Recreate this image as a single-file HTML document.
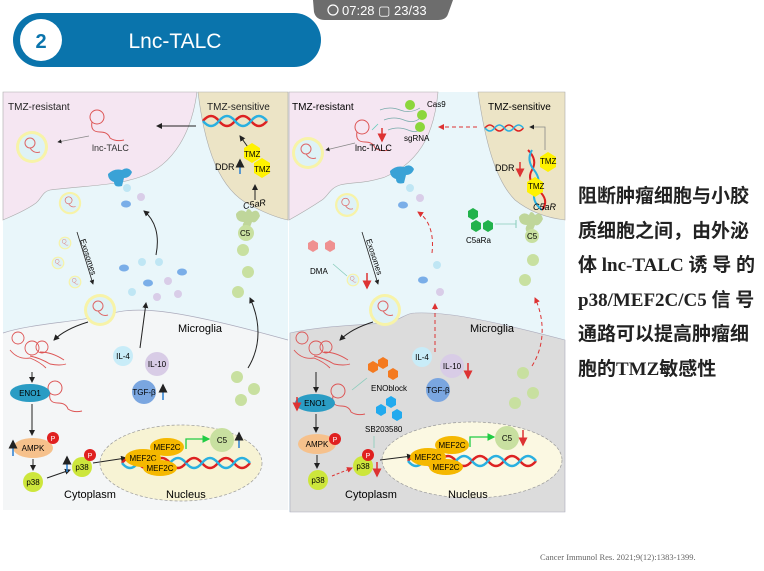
<!DOCTYPE html>
<html><head><meta charset="utf-8"><style>
html,body{margin:0;padding:0;background:#fff;width:764px;height:571px;overflow:hidden;font-family:"Liberation Sans","Noto Sans CJK SC",sans-serif}
.cn{position:absolute;left:578px;top:180px;width:186px;font-size:19px;line-height:34.6px;font-family:"Liberation Serif","Noto Sans CJK SC",sans-serif;font-weight:bold;color:#222;white-space:nowrap}
</style></head><body>
<svg width="764" height="571" viewBox="0 0 764 571" style="position:absolute;left:0;top:0" font-family="Liberation Sans, sans-serif">
<defs>
<marker id="ak" markerWidth="6" markerHeight="6" refX="5" refY="3" orient="auto"><path d="M0,0L6,3L0,6z" fill="#222"/></marker>
<marker id="ar" markerWidth="6" markerHeight="6" refX="5" refY="3" orient="auto"><path d="M0,0L6,3L0,6z" fill="#d33"/></marker>
<marker id="ag" markerWidth="6" markerHeight="6" refX="5" refY="3" orient="auto"><path d="M0,0L6,3L0,6z" fill="#2c4"/></marker>
<g id="ves"><circle r="16" fill="#f7f3a8"/><circle r="13" fill="#def2f6"/><circle cx="-2" cy="-4" r="5" fill="none" stroke="#d66" stroke-width="1"/><path d="M-2,1 q4,6 10,4" fill="none" stroke="#d66"/></g>
<g id="rna" fill="none" stroke="#d55" stroke-width="1"><circle r="7"/><path d="M-5,5 q-2,10 8,10 q8,0 10,6 q6,4 14,2"/></g>
<g id="dna" fill="none" stroke-width="2.5"><path d="M0,0 q8,-10 16,0 t16,0 t16,0 t16,0" stroke="#d22"/><path d="M0,0 q8,10 16,0 t16,0 t16,0 t16,0" stroke="#2ab0e0"/></g>
</defs>
<!-- header -->
<path d="M313,0 L453,0 L448,14 Q446,20 438,20 L325,20 Q316,20 314,12 Z" fill="#6d6d6d"/>
<text x="342" y="15" font-size="13" fill="#fff">07:28 ▢ 23/33</text>
<circle cx="333" cy="10" r="5" fill="none" stroke="#fff" stroke-width="1.2"/>
<rect x="13" y="13" width="308" height="54" rx="27" fill="#0a74ac"/>
<circle cx="41" cy="40" r="21" fill="#fff"/>
<text x="41" y="48" font-size="20" font-weight="bold" fill="#0a74ac" text-anchor="middle">2</text>
<text x="175" y="48" font-size="21" fill="#fff" text-anchor="middle">Lnc-TALC</text>

<!-- LEFT PANEL -->
<rect x="3" y="92" width="285" height="418" fill="#e9f6fa"/>
<path d="M3,333 C33,323 83,322 113,313 C140,306 180,310 288,340 L288,510 L3,510 Z" fill="#f4f6f7"/>
<path d="M3,333 C33,323 83,322 113,313 C140,306 180,310 288,340" fill="none" stroke="#aab" stroke-width="0.7"/>
<path d="M3,92 L197,92 C192,130 175,165 140,177 C115,186 80,186 50,190 C42,192 42,198 36,203 C25,211 12,216 3,220 Z" fill="#f5e6f2" stroke="#aaa" stroke-width="0.6"/>
<path d="M198,92 C205,150 220,190 250,205 C265,213 278,218 288,220 L288,92 Z" fill="#ece4c6" stroke="#aaa" stroke-width="0.6"/>
<ellipse cx="181" cy="463" rx="81" ry="38" fill="#f7f3d4" stroke="#999" stroke-dasharray="3,2" stroke-width="0.7"/>
<text x="8" y="110" font-size="10" fill="#222">TMZ-resistant</text>
<text x="207" y="110" font-size="10" fill="#222">TMZ-sensitive</text>
<use href="#ves" x="32" y="147"/>
<use href="#rna" x="97" y="117"/>
<text x="92" y="151" font-size="9" fill="#333">lnc-TALC</text>
<line x1="89" y1="136" x2="58" y2="142" stroke="#888" stroke-width="0.7" marker-end="url(#ak)"/>
<line x1="196" y1="126" x2="157" y2="126" stroke="#222" marker-end="url(#ak)"/>
<use href="#dna" x="203" y="121" transform="scale(1)"/>
<line x1="250" y1="150" x2="240" y2="136" stroke="#222" marker-end="url(#ak)"/>
<polygon points="252,143 260,148 260,158 252,163 244,158 244,148" fill="#fff200"/>
<polygon points="262,158 270,163 270,173 262,178 254,173 254,163" fill="#fff200"/>
<text x="244" y="157" font-size="8">TMZ</text><text x="254" y="172" font-size="8">TMZ</text>
<text x="215" y="170" font-size="9">DDR</text>
<line x1="240" y1="174" x2="240" y2="160" stroke="#2a7fd0" stroke-width="1.5" marker-end="url(#ak)"/>
<line x1="255" y1="200" x2="255" y2="185" stroke="#222" marker-end="url(#ak)"/>
<text x="243" y="208" font-size="9" font-style="italic" transform="rotate(-10 250 205)">C5aR</text>
<path d="M236,214 q4,-6 10,-2 q2,-6 6,0 q6,-4 8,4 q-4,8 -8,6 l-4,10 q-8,-4 -4,-10 q-8,0 -8,-8z" fill="#bfd69a"/>
<circle cx="246" cy="233" r="8" fill="#c8e0a0"/><text x="240" y="236" font-size="8">C5</text>
<circle cx="243" cy="250" r="6" fill="#c8e0a0"/><circle cx="248" cy="272" r="6" fill="#c8e0a0"/><circle cx="238" cy="292" r="6" fill="#c8e0a0"/>
<circle cx="237" cy="377" r="6" fill="#c8e0a0"/><circle cx="254" cy="389" r="6" fill="#c8e0a0"/><circle cx="241" cy="400" r="6" fill="#c8e0a0"/>
<path d="M248,368 C262,345 260,320 250,298" fill="none" stroke="#222" marker-end="url(#ak)"/>
<path d="M108,174 q6,-6 14,-4 q6,-4 10,2 q-2,6 -8,6 l-2,8 q-8,2 -8,-4 q-6,-2 -6,-8z" fill="#3aa2d6"/>
<circle cx="127" cy="188" r="4" fill="#bfe6f4"/><circle cx="141" cy="197" r="4" fill="#d9cde8"/><ellipse cx="126" cy="204" rx="5" ry="3.5" fill="#7aaee8"/>
<path d="M156,255 C160,235 155,220 144,211" fill="none" stroke="#222" marker-end="url(#ak)"/>
<ellipse cx="124" cy="268" rx="5" ry="3.5" fill="#7aaee8"/><circle cx="142" cy="262" r="4" fill="#bfe6f4"/><circle cx="159" cy="262" r="4" fill="#bfe6f4"/><ellipse cx="182" cy="272" rx="5" ry="3.5" fill="#7aaee8"/>
<ellipse cx="148" cy="283" rx="5" ry="3.5" fill="#7aaee8"/><circle cx="168" cy="281" r="4" fill="#d9cde8"/><circle cx="132" cy="292" r="4" fill="#bfe6f4"/><circle cx="157" cy="297" r="4" fill="#d9cde8"/><circle cx="178" cy="294" r="4" fill="#d9cde8"/>
<line x1="140" y1="348" x2="146" y2="303" stroke="#222" marker-end="url(#ak)"/>
<circle cx="123" cy="356" r="10" fill="#c8ecf8"/><text x="123" y="359" font-size="8" text-anchor="middle">IL-4</text>
<circle cx="157" cy="364" r="12" fill="#d8cce6"/><text x="157" y="367" font-size="8" text-anchor="middle">IL-10</text>
<circle cx="144" cy="392" r="12" fill="#7aa6e0"/><text x="144" y="395" font-size="8" text-anchor="middle">TGF-β</text>
<line x1="163" y1="400" x2="163" y2="385" stroke="#2a7fd0" stroke-width="1.5" marker-end="url(#ak)"/>
<use href="#ves" x="70" y="203" transform="translate(21 61) scale(0.7)"/>
<g transform="translate(65 243) scale(0.4)"><use href="#ves"/></g>
<g transform="translate(58 263) scale(0.4)"><use href="#ves"/></g>
<g transform="translate(75 282) scale(0.4)"><use href="#ves"/></g>
<line x1="77" y1="232" x2="93" y2="284" stroke="#222" stroke-width="0.8" marker-end="url(#ak)"/>
<text x="80" y="240" font-size="8" transform="rotate(72 80 240)">Exosomes</text>
<use href="#ves" x="100" y="310"/>
<path d="M88,322 C75,326 62,332 54,340" fill="none" stroke="#222" marker-end="url(#ak)"/>
<g fill="none" stroke="#d55" stroke-width="0.9"><circle cx="18" cy="338" r="6"/><circle cx="32" cy="348" r="7"/><circle cx="42" cy="347" r="6"/><path d="M10,350 q8,10 20,8 q10,4 16,10 M30,356 q10,2 20,8 q10,2 16,0 M40,352 q12,0 24,8"/></g>
<line x1="32" y1="372" x2="32" y2="382" stroke="#222" marker-end="url(#ak)"/>
<use href="#rna" x="55" y="388"/>
<ellipse cx="30" cy="393" rx="20" ry="9" fill="#2a9cc4"/><text x="30" y="396" font-size="8" text-anchor="middle">ENO1</text>
<line x1="32" y1="404" x2="32" y2="435" stroke="#222" marker-end="url(#ak)"/>
<ellipse cx="33" cy="448" rx="20" ry="10" fill="#f6c18c"/><text x="33" y="451" font-size="8" text-anchor="middle">AMPK</text>
<circle cx="53" cy="438" r="6" fill="#e02020"/><text x="53" y="441" font-size="7" fill="#fff" text-anchor="middle">P</text>
<line x1="13" y1="456" x2="13" y2="441" stroke="#2a7fd0" stroke-width="1.5" marker-end="url(#ak)"/>
<line x1="33" y1="459" x2="33" y2="470" stroke="#222" marker-end="url(#ak)"/>
<circle cx="33" cy="482" r="10" fill="#cde63c"/><text x="33" y="485" font-size="8" text-anchor="middle">p38</text>
<line x1="47" y1="478" x2="70" y2="470" stroke="#222" marker-end="url(#ak)"/>
<line x1="67" y1="472" x2="67" y2="457" stroke="#2a7fd0" stroke-width="1.5" marker-end="url(#ak)"/>
<circle cx="82" cy="467" r="10" fill="#cde63c"/><text x="82" y="470" font-size="8" text-anchor="middle">p38</text>
<circle cx="90" cy="455" r="6" fill="#e02020"/><text x="90" y="458" font-size="7" fill="#fff" text-anchor="middle">P</text>
<line x1="93" y1="463" x2="126" y2="458" stroke="#222" marker-end="url(#ak)"/>
<use href="#dna" x="122" y="463"/><use href="#dna" x="186" y="463"/>
<ellipse cx="143" cy="458" rx="18" ry="9" fill="#f5b800"/><text x="143" y="461" font-size="8" text-anchor="middle">MEF2C</text>
<ellipse cx="167" cy="447" rx="17" ry="9" fill="#f5b800"/><text x="167" y="450" font-size="8" text-anchor="middle">MEF2C</text>
<ellipse cx="160" cy="468" rx="17" ry="8" fill="#f5b800"/><text x="160" y="471" font-size="8" text-anchor="middle">MEF2C</text>
<path d="M186,449 L186,439 L209,439" fill="none" stroke="#2c4" stroke-width="1.3" marker-end="url(#ag)"/>
<circle cx="222" cy="440" r="12" fill="#c8e0a0"/><text x="222" y="443" font-size="8" text-anchor="middle">C5</text>
<line x1="239" y1="448" x2="239" y2="433" stroke="#2a7fd0" stroke-width="1.5" marker-end="url(#ak)"/>
<text x="178" y="332" font-size="11">Microglia</text>
<text x="64" y="498" font-size="11">Cytoplasm</text>
<text x="166" y="498" font-size="11">Nucleus</text>

<!-- RIGHT PANEL -->
<rect x="289" y="92" width="276" height="420" fill="#e9f6fa"/>
<path d="M290,333 C320,326 360,325 385,323 C400,321 405,313 415,313 C440,312 470,315 565,340 L565,512 L290,512 Z" fill="#dcdcdc" stroke="#aab" stroke-width="0.6"/>
<path d="M289,92 L438,92 C435,125 425,160 385,177 C365,184 350,182 340,185 C330,188 328,196 322,200 C310,208 298,215 289,220 Z" fill="#f5e6f2" stroke="#aaa" stroke-width="0.6"/>
<path d="M478,92 C485,140 495,180 515,200 C530,212 548,218 565,220 L565,92 Z" fill="#ece4c6" stroke="#aaa" stroke-width="0.6"/>
<ellipse cx="472" cy="460" rx="90" ry="38" fill="#fbf8e2" stroke="#999" stroke-dasharray="3,2" stroke-width="0.7"/>
<text x="292" y="110" font-size="10">TMZ-resistant</text>
<text x="488" y="110" font-size="10">TMZ-sensitive</text>
<use href="#ves" x="308" y="153"/>
<use href="#rna" x="362" y="127"/>
<text x="355" y="151" font-size="9">lnc-TALC</text>
<line x1="355" y1="143" x2="326" y2="150" stroke="#888" stroke-width="0.7" marker-end="url(#ak)"/>
<g fill="none" stroke="#7aa" stroke-width="0.7"><path d="M380,110 q10,-4 20,0 t20,-2"/><path d="M384,120 q10,-4 20,0 t16,-2"/><path d="M388,130 q10,-4 20,0 t12,-2"/></g>
<circle cx="410" cy="105" r="5" fill="#8cd63c"/><circle cx="422" cy="115" r="5" fill="#8cd63c"/><circle cx="420" cy="127" r="5" fill="#8cd63c"/>
<text x="427" y="107" font-size="8">Cas9</text><text x="404" y="141" font-size="8">sgRNA</text>
<line x1="378" y1="124" x2="372" y2="130" stroke="#6cb" stroke-width="0.8"/>
<line x1="382" y1="128" x2="382" y2="141" stroke="#d33" stroke-width="1.5" marker-end="url(#ar)"/>
<line x1="477" y1="127" x2="439" y2="127" stroke="#d33" stroke-dasharray="4,3" marker-end="url(#ar)"/>
<g transform="translate(485 128) scale(0.6)"><use href="#dna"/></g>
<path d="M545,150 L545,127 L530,127" fill="none" stroke="#888" stroke-width="0.8" marker-end="url(#ak)"/>
<path d="M528,150 q10,10 4,20 t6,20 t4,20" fill="none" stroke="#d22" stroke-width="2"/><path d="M532,150 q-6,10 2,20 t2,20 t6,20" fill="none" stroke="#2ab0e0" stroke-width="2"/>
<polygon points="548,152 556,157 556,167 548,172 540,167 540,157" fill="#fff200"/><text x="540" y="164" font-size="8">TMZ</text>
<polygon points="535,177 543,182 543,192 535,197 527,192 527,182" fill="#fff200"/><text x="528" y="189" font-size="8">TMZ</text>
<text x="495" y="171" font-size="9">DDR</text>
<line x1="520" y1="162" x2="520" y2="176" stroke="#d33" stroke-width="1.5" marker-end="url(#ar)"/>
<text x="533" y="210" font-size="9" font-style="italic">C5aR</text>
<path d="M519,217 q4,-6 10,-2 q2,-6 6,0 q6,-4 8,4 q-4,8 -8,6 l-4,10 q-8,-4 -4,-10 q-8,0 -8,-8z" fill="#bfd69a"/>
<circle cx="532" cy="236" r="7" fill="#c8e0a0"/><text x="527" y="239" font-size="8">C5</text>
<polygon points="473,208 478,211 478,217 473,220 468,217 468,211" fill="#22b24c"/><polygon points="476,220 481,223 481,229 476,232 471,229 471,223" fill="#22b24c"/><polygon points="488,220 493,223 493,229 488,232 483,229 483,223" fill="#22b24c"/>
<text x="466" y="243" font-size="8">C5aRa</text>
<line x1="495" y1="224" x2="516" y2="224" stroke="#8cb" stroke-width="0.8"/><line x1="516" y1="220" x2="516" y2="228" stroke="#8cb"/>
<circle cx="533" cy="260" r="6" fill="#c8e0a0"/><circle cx="525" cy="280" r="6" fill="#c8e0a0"/>
<circle cx="523" cy="373" r="6" fill="#c8e0a0"/><circle cx="533" cy="393" r="6" fill="#c8e0a0"/><circle cx="515" cy="403" r="6" fill="#c8e0a0"/>
<path d="M532,366 C545,345 545,320 535,298" fill="none" stroke="#d33" stroke-dasharray="4,3" marker-end="url(#ar)"/>
<path d="M390,171 q6,-6 14,-4 q6,-4 10,2 q-2,6 -8,6 l-2,8 q-8,2 -8,-4 q-6,-2 -6,-8z" fill="#3aa2d6"/>
<circle cx="410" cy="188" r="4" fill="#bfe6f4"/><circle cx="420" cy="198" r="4" fill="#d9cde8"/><ellipse cx="403" cy="205" rx="5" ry="3.5" fill="#7aaee8"/>
<path d="M432,253 C434,235 430,220 418,212" fill="none" stroke="#d33" stroke-dasharray="4,3" marker-end="url(#ar)"/>
<circle cx="437" cy="265" r="4" fill="#bfe6f4"/><ellipse cx="423" cy="280" rx="5" ry="3.5" fill="#7aaee8"/><circle cx="440" cy="292" r="4" fill="#d9cde8"/>
<line x1="435" y1="352" x2="435" y2="304" stroke="#d33" stroke-dasharray="4,3" marker-end="url(#ar)"/>
<circle cx="422" cy="357" r="10" fill="#c8ecf8"/><text x="422" y="360" font-size="8" text-anchor="middle">IL-4</text>
<circle cx="452" cy="366" r="12" fill="#d8cce6"/><text x="452" y="369" font-size="8" text-anchor="middle">IL-10</text>
<circle cx="438" cy="390" r="12" fill="#7aa6e0"/><text x="438" y="393" font-size="8" text-anchor="middle">TGF-β</text>
<line x1="468" y1="363" x2="468" y2="378" stroke="#d33" stroke-width="1.5" marker-end="url(#ar)"/>
<g transform="translate(347 205) scale(0.75)"><use href="#ves"/></g>
<line x1="362" y1="232" x2="378" y2="284" stroke="#222" stroke-width="0.8" marker-end="url(#ak)"/>
<text x="366" y="240" font-size="8" transform="rotate(72 366 240)">Exosomes</text>
<polygon points="313,240 318,243 318,249 313,252 308,249 308,243" fill="#ef9090"/><polygon points="330,240 335,243 335,249 330,252 325,249 325,243" fill="#ef9090"/>
<text x="310" y="274" font-size="8">DMA</text>
<line x1="333" y1="264" x2="347" y2="276" stroke="#8cb" stroke-width="0.8"/>
<g transform="translate(353 280) scale(0.4)"><use href="#ves"/></g>
<line x1="367" y1="273" x2="367" y2="288" stroke="#d33" stroke-width="1.5" marker-end="url(#ar)"/>
<use href="#ves" x="385" y="310"/>
<path d="M373,322 C360,326 348,332 340,340" fill="none" stroke="#222" marker-end="url(#ak)"/>
<g fill="none" stroke="#d55" stroke-width="0.9"><circle cx="302" cy="338" r="6"/><circle cx="316" cy="348" r="7"/><circle cx="326" cy="347" r="6"/><path d="M294,350 q8,10 20,8 q10,4 16,10 M314,356 q10,2 20,8 q10,2 16,0 M324,352 q12,0 24,8"/></g>
<polygon points="373,361 378,364 378,370 373,373 368,370 368,364" fill="#f47a20"/><polygon points="383,357 388,360 388,366 383,369 378,366 378,360" fill="#f47a20"/><polygon points="393,368 398,371 398,377 393,380 388,377 388,371" fill="#f47a20"/>
<text x="371" y="391" font-size="8">ENOblock</text>
<line x1="367" y1="378" x2="352" y2="390" stroke="#8cb" stroke-width="0.8"/>
<line x1="316" y1="372" x2="316" y2="392" stroke="#222" marker-end="url(#ak)"/>
<use href="#rna" x="338" y="391"/>
<ellipse cx="315" cy="403" rx="20" ry="9" fill="#2a9cc4"/><text x="315" y="406" font-size="8" text-anchor="middle">ENO1</text>
<line x1="297" y1="397" x2="297" y2="410" stroke="#d33" stroke-width="1.5" marker-end="url(#ar)"/>
<polygon points="381,404 386,407 386,413 381,416 376,413 376,407" fill="#22aaee"/><polygon points="391,396 396,399 396,405 391,408 386,405 386,399" fill="#22aaee"/><polygon points="397,409 402,412 402,418 397,421 392,418 392,412" fill="#22aaee"/>
<text x="365" y="432" font-size="8">SB203580</text>
<line x1="374" y1="436" x2="374" y2="448" stroke="#8cb" stroke-width="0.8"/>
<line x1="316" y1="414" x2="316" y2="432" stroke="#222" marker-end="url(#ak)"/>
<ellipse cx="317" cy="444" rx="19" ry="10" fill="#f6c18c"/><text x="317" y="447" font-size="8" text-anchor="middle">AMPK</text>
<circle cx="335" cy="439" r="6" fill="#e02020"/><text x="335" y="442" font-size="7" fill="#fff" text-anchor="middle">P</text>
<line x1="317" y1="455" x2="317" y2="468" stroke="#222" marker-end="url(#ak)"/>
<circle cx="318" cy="480" r="10" fill="#cde63c"/><text x="318" y="483" font-size="8" text-anchor="middle">p38</text>
<line x1="332" y1="476" x2="352" y2="468" stroke="#d33" stroke-dasharray="3,2" marker-end="url(#ar)"/>
<circle cx="363" cy="466" r="10" fill="#cde63c"/><text x="363" y="469" font-size="8" text-anchor="middle">p38</text>
<circle cx="368" cy="455" r="6" fill="#e02020"/><text x="368" y="458" font-size="7" fill="#fff" text-anchor="middle">P</text>
<line x1="377" y1="462" x2="377" y2="476" stroke="#d33" stroke-width="1.5" marker-end="url(#ar)"/>
<line x1="380" y1="460" x2="412" y2="456" stroke="#222" marker-end="url(#ak)"/>
<use href="#dna" x="408" y="461"/><use href="#dna" x="472" y="461"/>
<ellipse cx="428" cy="457" rx="18" ry="9" fill="#f5b800"/><text x="428" y="460" font-size="8" text-anchor="middle">MEF2C</text>
<ellipse cx="452" cy="445" rx="17" ry="9" fill="#f5b800"/><text x="452" y="448" font-size="8" text-anchor="middle">MEF2C</text>
<ellipse cx="446" cy="467" rx="17" ry="8" fill="#f5b800"/><text x="446" y="470" font-size="8" text-anchor="middle">MEF2C</text>
<path d="M470,447 L470,437 L494,437" fill="none" stroke="#2c4" stroke-width="1.3" marker-end="url(#ag)"/>
<circle cx="507" cy="438" r="12" fill="#c8e0a0"/><text x="507" y="441" font-size="8" text-anchor="middle">C5</text>
<line x1="523" y1="430" x2="523" y2="445" stroke="#d33" stroke-width="1.5" marker-end="url(#ar)"/>
<text x="470" y="332" font-size="11">Microglia</text>
<text x="345" y="498" font-size="11">Cytoplasm</text>
<text x="448" y="498" font-size="11">Nucleus</text>

<text x="540" y="560" font-size="8.5" fill="#666" font-family="Liberation Serif, serif">Cancer Immunol Res. 2021;9(12):1383-1399.</text>
</svg>
<div class="cn">阻断肿瘤细胞与小胶<br>质细胞之间，由外泌<br>体 lnc-TALC 诱 导 的<br>p38/MEF2C/C5 信 号<br>通路可以提高肿瘤细<br>胞的TMZ敏感性</div>
</body></html>
